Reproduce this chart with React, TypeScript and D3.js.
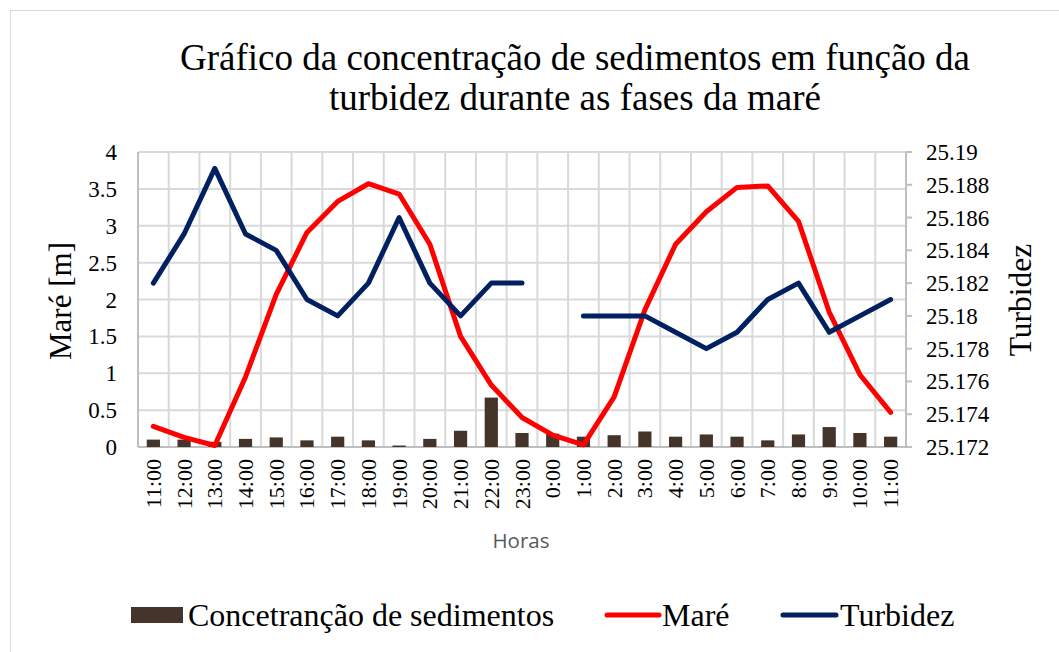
import * as d3 from 'd3';
import * as React from 'react';

const hours = [
  '11:00', '12:00', '13:00', '14:00', '15:00', '16:00', '17:00', '18:00', '19:00',
  '20:00', '21:00', '22:00', '23:00', '0:00', '1:00', '2:00', '3:00', '4:00',
  '5:00', '6:00', '7:00', '8:00', '9:00', '10:00', '11:00',
];
const sediment = [
  0.1, 0.1, 0.07, 0.11, 0.13, 0.09, 0.14, 0.09, 0.02, 0.11, 0.22, 0.67, 0.19,
  0.18, 0.14, 0.16, 0.21, 0.14, 0.17, 0.14, 0.09, 0.17, 0.27, 0.19, 0.14,
];
const mare = [
  0.28, 0.13, 0.02, 0.95, 2.07, 2.91, 3.33, 3.57, 3.43, 2.75, 1.5, 0.84, 0.4,
  0.16, 0.03, 0.68, 1.86, 2.75, 3.19, 3.52, 3.54, 3.06, 1.83, 0.98, 0.47,
];
const turbidez: (number | null)[] = [
  25.182, 25.185, 25.189, 25.185, 25.184, 25.181, 25.18, 25.182, 25.186, 25.182,
  25.18, 25.182, 25.182, null, 25.18, 25.18, 25.18, 25.179, 25.178, 25.179,
  25.181, 25.182, 25.179, 25.18, 25.181,
];
const leftTicks = [0, 0.5, 1, 1.5, 2, 2.5, 3, 3.5, 4];
const rightTicks = [25.172, 25.174, 25.176, 25.178, 25.18, 25.182, 25.184, 25.186, 25.188, 25.19];

const W = 1059;
const H = 652;
const plot = { left: 138, right: 906, top: 152, bottom: 447 };
const serif: React.CSSProperties = { fontFamily: 'Liberation Serif, DejaVu Serif, serif' };

export default function App() {
  const idx = hours.map((_, i) => i);
  const x = d3.scaleBand<number>().domain(idx).range([plot.left, plot.right]);
  const yL = d3.scaleLinear().domain([0, 4]).range([plot.bottom, plot.top]);
  const yR = d3.scaleLinear().domain([25.172, 25.19]).range([plot.bottom, plot.top]);
  const cx = (i: number) => (x(i) as number) + x.bandwidth() / 2;
  const barW = x.bandwidth() * 0.43;

  const mareLine = d3.line<number>().x((_, i) => cx(i)).y((d) => yL(d));
  const turbLine = d3
    .line<number | null>()
    .defined((d) => d !== null)
    .x((_, i) => cx(i))
    .y((d) => yR(d as number));

  return (
    <svg width={W} height={H} style={{ position: 'absolute', left: 0, top: 0, background: '#fff' }}>
      <rect x={10.5} y={10.5} width={1100} height={700} fill="#fff" stroke="#d9d9d9" strokeWidth={1} />

      <text x={575} y={70} textAnchor="middle" style={serif} fontSize={37}>
        Gráfico da concentração de sedimentos em função da
      </text>
      <text x={575} y={110} textAnchor="middle" style={serif} fontSize={37}>
        turbidez durante as fases da maré
      </text>

      {/* grid */}
      {leftTicks.map((t) => (
        <line key={'h' + t} x1={plot.left} x2={plot.right} y1={yL(t)} y2={yL(t)} stroke="#d9d9d9" strokeWidth={2} />
      ))}
      {idx.concat([hours.length]).map((i) => {
        const xx = i < hours.length ? (x(i) as number) : plot.right;
        return <line key={'v' + i} x1={xx} x2={xx} y1={plot.top} y2={plot.bottom} stroke="#d9d9d9" strokeWidth={2} />;
      })}

      {/* axes */}
      <line x1={plot.left} x2={plot.left} y1={plot.top} y2={plot.bottom} stroke="#bfbfbf" strokeWidth={2} />
      <line x1={plot.left} x2={plot.right} y1={plot.bottom} y2={plot.bottom} stroke="#bfbfbf" strokeWidth={2} />
      <line x1={plot.right} x2={plot.right} y1={plot.top} y2={plot.bottom} stroke="#bfbfbf" strokeWidth={2} />
      {rightTicks.map((t) => (
        <line key={'rt' + t} x1={plot.right} x2={plot.right + 6} y1={yR(t)} y2={yR(t)} stroke="#bfbfbf" strokeWidth={2} />
      ))}

      {leftTicks.map((t) => (
        <text key={'lt' + t} x={117} y={yL(t)} dy="0.35em" textAnchor="end" style={serif} fontSize={23}>
          {String(t)}
        </text>
      ))}
      {rightTicks.map((t) => (
        <text key={'rl' + t} x={926} y={yR(t)} dy="0.35em" style={serif} fontSize={23}>
          {String(+t.toFixed(3))}
        </text>
      ))}
      {hours.map((h, i) => (
        <text
          key={'x' + i}
          transform={`translate(${cx(i) + 7.5},459) rotate(-90)`}
          textAnchor="end"
          style={serif}
          fontSize={22}
        >
          {h}
        </text>
      ))}

      <text x={521} y={548} textAnchor="middle" style={{ fontFamily: 'Open Sans, sans-serif' }} fontSize={20.5} fill="#595959">
        Horas
      </text>
      <text transform="translate(71,301) rotate(-90)" textAnchor="middle" style={serif} fontSize={31}>
        Maré [m]
      </text>
      <text transform="translate(1031,300) rotate(-90)" textAnchor="middle" style={serif} fontSize={31.5}>
        Turbidez
      </text>

      {/* bars */}
      {sediment.map((v, i) => (
        <rect key={'b' + i} x={cx(i) - barW / 2} y={yL(v)} width={barW} height={yL(0) - yL(v)} fill="#44342a" />
      ))}

      <path d={mareLine(mare) as string} fill="none" stroke="#ff0000" strokeWidth={5} strokeLinejoin="round" strokeLinecap="round" />
      <path d={turbLine(turbidez) as string} fill="none" stroke="#002060" strokeWidth={5} strokeLinejoin="round" strokeLinecap="round" />

      {/* legend */}
      <rect x={131} y={607} width={52} height={16} fill="#44342a" />
      <text x={188} y={626} style={serif} fontSize={32}>Concetranção de sedimentos</text>
      <line x1={607} x2={659} y1={615} y2={615} stroke="#ff0000" strokeWidth={5} strokeLinecap="round" />
      <text x={662} y={626} style={serif} fontSize={32}>Maré</text>
      <line x1={783} x2={836} y1={615} y2={615} stroke="#002060" strokeWidth={5} strokeLinecap="round" />
      <text x={840} y={626} style={serif} fontSize={32}>Turbidez</text>
    </svg>
  );
}
